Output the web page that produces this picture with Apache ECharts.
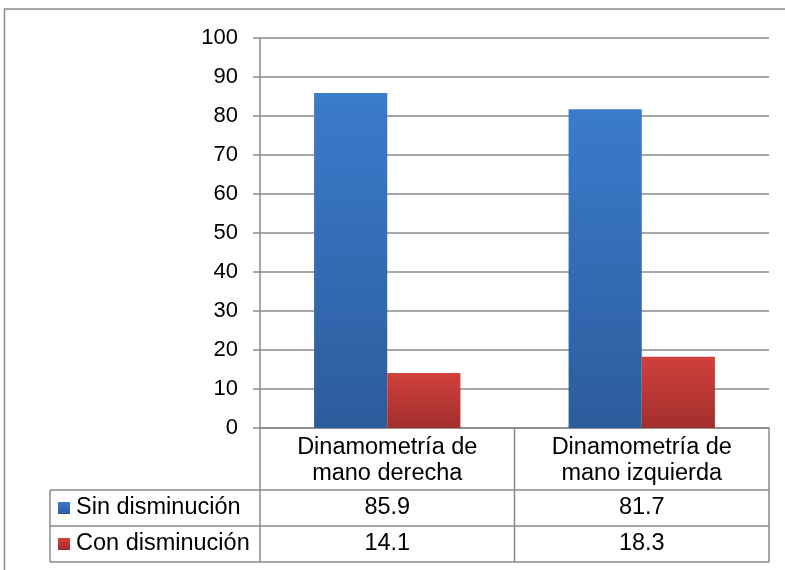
<!DOCTYPE html>
<html>
<head>
<meta charset="utf-8">
<script src="https://cdn.jsdelivr.net/npm/echarts@6/dist/echarts.min.js"></script>
<style>
  html, body { margin: 0; padding: 0; background: #fff; }
  #chart { width: 785px; height: 570px; }
</style>
</head>
<body>
<div id="chart"></div>
<script>
// Hand-grip dynamometry: share of cases with and without strength decrease
const categories = ['Dinamometría de\nmano derecha', 'Dinamometría de\nmano izquierda'];
const seriesNames = ['Sin disminución', 'Con disminución'];
const sinValues = [85.9, 81.7];
const conValues = [14.1, 18.3];
const yTicks = { min: 0, max: 100, step: 10 };

const FONT = '"Liberation Sans", Arial, sans-serif';
const FS_AXIS = 22;
const FS = 23.5;
const LINE = '#8a8a8a';

const blueFill = new echarts.graphic.LinearGradient(0, 0, 0, 1, [
  { offset: 0, color: '#3B7BCC' },
  { offset: 1, color: '#2C5C9C' }
]);
const redFill = new echarts.graphic.LinearGradient(0, 0, 0, 1, [
  { offset: 0, color: '#D1403C' },
  { offset: 1, color: '#A22F2D' }
]);
const fills = [blueFill, redFill];
const seriesValues = [sinValues, conValues];

const chart = echarts.init(document.getElementById('chart'), null, { renderer: 'canvas' });

const option = {
  animation: false,
  textStyle: { fontFamily: FONT },
  grid: { left: 260, right: 16, top: 38, bottom: 142, containLabel: false },
  xAxis: {
    type: 'category',
    data: categories,
    axisLine: { show: true, lineStyle: { color: LINE, width: 1.5 } },
    axisTick: { show: false },
    axisLabel: {
      interval: 0, color: '#000', fontSize: FS, fontFamily: FONT,
      lineHeight: 26, margin: 7, verticalAlign: 'top'
    },
    splitLine: { show: false }
  },
  yAxis: {
    type: 'value',
    min: yTicks.min, max: yTicks.max, interval: yTicks.step,
    axisLine: { show: true, lineStyle: { color: LINE, width: 1.5 } },
    axisTick: { show: true, length: 7, lineStyle: { color: LINE, width: 1.5 } },
    axisLabel: { color: '#000', fontSize: FS_AXIS, fontFamily: FONT, margin: 22 },
    splitLine: { show: true, lineStyle: { color: LINE, width: 1.5 } }
  },
  series: seriesNames.map((name, i) => ({
    name: name,
    type: 'bar',
    data: seriesValues[i],
    barGap: '0%',
    barCategoryGap: '42.5%',
    itemStyle: {
      color: fills[i],
      shadowBlur: 5,
      shadowColor: 'rgba(0,0,0,0.18)',
      shadowOffsetX: 0,
      shadowOffsetY: 0
    }
  }))
};

chart.setOption(option);

// Data table under the plot, positioned from the axes
function buildTable() {
  const c0 = chart.convertToPixel({ xAxisIndex: 0 }, 0);
  const c1 = chart.convertToPixel({ xAxisIndex: 0 }, 1);
  const band = c1 - c0;
  const xStart = c0 - band / 2;
  const xEnd = xStart + band * categories.length;
  const yBase = chart.convertToPixel({ yAxisIndex: 0 }, 0);

  const headerH = 62, rowH = 36;
  const tableLeft = 50;
  const rowTops = seriesNames.map((_, i) => yBase + headerH + i * rowH);
  const tableBottom = yBase + headerH + seriesNames.length * rowH;

  const els = [];
  const line = (x1, y1, x2, y2) => els.push({
    type: 'line', silent: true,
    shape: { x1, y1, x2, y2 },
    style: { stroke: LINE, lineWidth: 1.5 }
  });

  // horizontal rules
  rowTops.forEach(y => line(tableLeft, y, xEnd, y));
  line(tableLeft, tableBottom, xEnd, tableBottom);
  // vertical rules
  line(tableLeft, rowTops[0], tableLeft, tableBottom);
  for (let k = 0; k <= categories.length; k++) {
    const x = xStart + band * k;
    line(x, yBase, x, tableBottom);
  }

  seriesNames.forEach((name, i) => {
    const cy = rowTops[i] + rowH / 2;
    // legend key
    els.push({
      type: 'rect', silent: true,
      shape: { x: tableLeft + 8, y: cy - 6, width: 12, height: 12 },
      style: { fill: fills[i] }
    });
    els.push({
      type: 'text', silent: true,
      style: {
        x: tableLeft + 26, y: cy, text: name,
        font: FS + 'px ' + FONT, fill: '#000',
        textAlign: 'left', textVerticalAlign: 'middle'
      }
    });
    seriesValues[i].forEach((v, j) => {
      els.push({
        type: 'text', silent: true,
        style: {
          x: xStart + band * (j + 0.5), y: cy, text: v.toFixed(1),
          font: FS + 'px ' + FONT, fill: '#000',
          textAlign: 'center', textVerticalAlign: 'middle'
        }
      });
    });
  });

  // outer frame of the chart area
  els.push({
    type: 'rect', silent: true,
    shape: { x: 4.5, y: 9, width: 900, height: 700 },
    style: { fill: null, stroke: LINE, lineWidth: 1.5 }
  });

  chart.setOption({ graphic: els });
}

buildTable();
</script>
</body>
</html>
